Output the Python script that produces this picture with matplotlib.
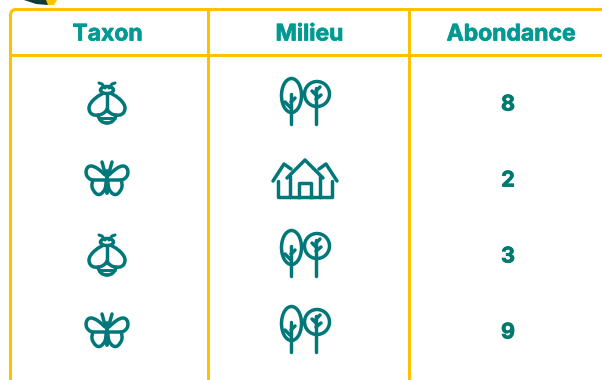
import matplotlib
matplotlib.use("Agg")
import matplotlib.pyplot as plt
import matplotlib.patheffects as pe
from matplotlib.patches import Ellipse, Circle, Polygon, PathPatch
from matplotlib.path import Path

headers = ["Taxon", "Milieu", "Abondance"]
taxa = ["abeille", "papillon", "abeille", "papillon"]
milieux = ["foret", "ville", "foret", "foret"]
abondance = [8, 2, 3, 9]

YELLOW = "#ffc000"
HEAD = "#009a93"
TEAL = "#00787a"
VALUE = "#007a6e"
LW = 2.5
GRID = 2.2

plt.rcParams["font.family"] = ["Inter", "DejaVu Sans"]


def line(ax, xs, ys, lw=LW, color=TEAL):
    ax.plot(xs, ys, color=color, lw=lw, solid_capstyle="round", solid_joinstyle="round")


def curve(ax, cx, cy, start, segs, s=1, lw=LW):
    # segs : liste de 3 points de controle (bezier cubique) relatifs au centre
    verts = [(cx + s*start[0], cy + start[1])]
    codes = [Path.MOVETO]
    for seg in segs:
        for p in seg:
            verts.append((cx + s*p[0], cy + p[1]))
            codes.append(Path.CURVE4)
    ax.add_patch(PathPatch(Path(verts, codes), fc="none", ec=TEAL, lw=lw,
                           capstyle="round", joinstyle="round"))


def draw_bee(ax, cx, cy):
    for s in (-1, 1):
        # aile
        curve(ax, cx, cy, (0, -11),
              [[(-8, -9), (-18, -1), (-18, 5)],
               [(-18, 11), (-13, 13), (-9, 12)],
               [(-5, 12), (-1, 9), (0, 6)]], s)
        # antennes
        line(ax, [cx + s*2, cx + s*5, cx + s*8], [cy - 15, cy - 19, cy - 20], lw=LW - 0.3)
        # bas du corps
        curve(ax, cx, cy, (-9, 12), [[(-8, 17), (-5, 20), (0, 20)]], s)
    ax.add_patch(Ellipse((cx, cy - 13), 13, 7, fc="white", ec=TEAL, lw=LW))
    line(ax, [cx, cx], [cy - 9, cy + 8])
    line(ax, [cx - 8, cx + 8], [cy + 15, cy + 15], lw=LW - 0.4)


def draw_butterfly(ax, cx, cy):
    for s in (-1, 1):
        # aile haute
        curve(ax, cx, cy, (-2, -4),
              [[(-7, -9), (-12, -13), (-16, -13)],
               [(-21, -13), (-22, -6), (-20, -3)],
               [(-18, 0), (-16, 1), (-13, 1)],
               [(-9, 1), (-5, 1), (-1, 1)]], s)
        # aile basse
        curve(ax, cx, cy, (-14, 1),
              [[(-16, 6), (-15, 10), (-13, 12)],
               [(-11, 16), (-7, 17), (-4, 13)],
               [(-2, 11), (-1, 8), (-1, 3)]], s)
        # antenne
        line(ax, [cx + s*2, cx + s*5], [cy - 6, cy - 17])
    line(ax, [cx, cx], [cy - 8, cy + 14], lw=LW + 0.3)


def draw_trees(ax, cx, cy):
    # arbre gauche
    ax.add_patch(Ellipse((cx - 13.5, cy - 7.5), 20, 34, fill=False, ec=TEAL, lw=LW))
    line(ax, [cx - 14, cx - 14], [cy - 9, cy + 21])
    line(ax, [cx - 14, cx - 20], [cy + 5, cy - 1])
    line(ax, [cx - 14, cx - 10], [cy - 1, cy - 5])
    # arbre droit
    ax.add_patch(Circle((cx + 12, cy - 9), 12.5, fill=False, ec=TEAL, lw=LW))
    line(ax, [cx + 11, cx + 11], [cy - 15, cy + 21])
    line(ax, [cx + 11, cx + 16], [cy - 4, cy - 8])
    line(ax, [cx + 11, cx + 7], [cy - 8, cy - 12])
    line(ax, [cx + 11, cx + 15], [cy - 12, cy - 16])


def draw_house(ax, cx, cy):
    # maison centrale
    line(ax, [cx - 18, cx, cx + 18], [cy - 1, cy - 19, cy - 1])
    line(ax, [cx - 15, cx - 15], [cy - 3, cy + 18])
    line(ax, [cx + 15, cx + 15], [cy - 3, cy + 18])
    # porte
    ax.plot([cx - 6, cx - 6, cx + 6, cx + 6], [cy + 18, cy + 4, cy + 4, cy + 18],
            color=TEAL, lw=LW)
    # maisons laterales
    for s in (-1, 1):
        line(ax, [cx + s*32, cx + s*21, cx + s*14], [cy + 2, cy - 15, cy - 10])
        line(ax, [cx + s*27, cx + s*27, cx + s*15], [cy + 2, cy + 18, cy + 18])
    line(ax, [cx - 15, cx + 15], [cy + 18, cy + 18])


draw_taxon = {"abeille": draw_bee, "papillon": draw_butterfly}
draw_milieu = {"foret": draw_trees, "ville": draw_house}

fig = plt.figure(figsize=(6.02, 3.80), dpi=100)
ax = fig.add_axes([0, 0, 1, 1])
ax.set_xlim(0, 602)
ax.set_ylim(380, 0)
ax.axis("off")

# bout de logo coupe en haut
ax.add_patch(Polygon([(24, 0), (48, 0), (48, 5), (36, 4)], fc="#123c3a", ec="none"))
ax.add_patch(Polygon([(46, 0), (57, 0), (54, 5), (48, 5)], fc=YELLOW, ec="none"))

# grille
col_x = [107, 305, 508]
head_x = [107.5, 309.5, 511]
row_y = [103, 179, 255, 331]
frame = Path([(10.5, 380), (10.5, 15), (10.5, 9.5), (16, 9.5), (602, 9.5)],
             [Path.MOVETO, Path.LINETO, Path.CURVE3, Path.CURVE3, Path.LINETO])
ax.add_patch(PathPatch(frame, fc="none", ec=YELLOW, lw=GRID))
ax.plot([10, 602], [54.5, 54.5], color=YELLOW, lw=GRID, solid_capstyle="butt")
for x in (208, 408.5):
    ax.plot([x, x], [9.5, 380], color=YELLOW, lw=GRID, solid_capstyle="butt")

stroke = [pe.withStroke(linewidth=0.5, foreground=HEAD)]
for x, h in zip(head_x, headers):
    ax.text(x, 34.5, h, color=HEAD, fontsize=16.5, fontweight="bold", ha="center",
            va="center", path_effects=stroke)

stroke = [pe.withStroke(linewidth=0.6, foreground=VALUE)]
for y, t, m, a in zip(row_y, taxa, milieux, abondance):
    draw_taxon[t](ax, col_x[0], y)
    draw_milieu[m](ax, col_x[1], y)
    ax.text(col_x[2], y + 1.5, str(a), color=VALUE, fontsize=15.5, fontweight="bold",
            ha="center", va="center", path_effects=stroke)

fig.savefig("out.png", dpi=100)
